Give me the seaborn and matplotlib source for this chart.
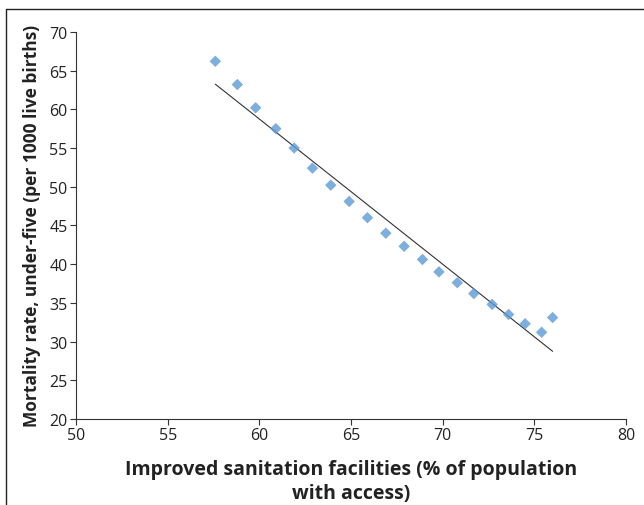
import numpy as np
import pandas as pd
import matplotlib
matplotlib.use('Agg')
import matplotlib.pyplot as plt
from matplotlib.lines import Line2D
import seaborn as sns

# 데이터
sanitation = [57.6, 58.8, 59.8, 60.9, 61.9, 62.9, 63.9, 64.9, 65.9, 66.9,
              67.9, 68.9, 69.8, 70.8, 71.7, 72.7, 73.6, 74.5, 75.4, 76.0]
mortality = [66.2, 63.2, 60.2, 57.5, 55.0, 52.4, 50.2, 48.1, 46.0, 44.0,
             42.3, 40.6, 39.0, 37.6, 36.2, 34.8, 33.5, 32.3, 31.2, 33.1]

df = pd.DataFrame({'x': sanitation, 'y': mortality})

sns.set_style('white')
plt.rcParams['font.family'] = ['Open Sans', 'DejaVu Sans']

fig = plt.figure(figsize=(6.44, 5.06), dpi=100)
ax = fig.add_axes([0.118, 0.170, 0.854, 0.765])

sns.regplot(data=df, x='x', y='y', ax=ax, ci=None, marker='D',
            scatter_kws={'s': 34, 'color': '#5B9BD5', 'edgecolor': 'none', 'zorder': 3},
            line_kws={'color': '#333333', 'linewidth': 0.8, 'zorder': 2})

ax.set_xlim(50, 80)
ax.set_ylim(20, 70)
ax.set_xticks(range(50, 81, 5))
ax.set_yticks(range(20, 71, 5))
ax.tick_params(axis='both', labelsize=11.5, length=4, width=0.8, color='#333333',
               labelcolor='#222222', direction='out', bottom=True, left=True, pad=2)
sns.despine(ax=ax)
for s in ['left', 'bottom']:
    ax.spines[s].set_color('#333333')
    ax.spines[s].set_linewidth(0.8)

ax.set_xlabel('Improved sanitation facilities (% of population\nwith access)',
              fontsize=14, fontweight='bold', labelpad=11, linespacing=1.3, color='#222222')
ax.set_ylabel('Mortality rate, under-five (per 1000 live births)',
              fontsize=12.5, fontweight='bold', labelpad=6, color='#222222')

# 바깥 테두리 (위, 왼쪽)
fig.add_artist(Line2D([6 / 644, 1], [1 - 10 / 506, 1 - 10 / 506],
                      transform=fig.transFigure, color='#222222', linewidth=1))
fig.add_artist(Line2D([6 / 644, 6 / 644], [0, 1 - 10 / 506],
                      transform=fig.transFigure, color='#222222', linewidth=1))

fig.savefig('out.png', dpi=100)
